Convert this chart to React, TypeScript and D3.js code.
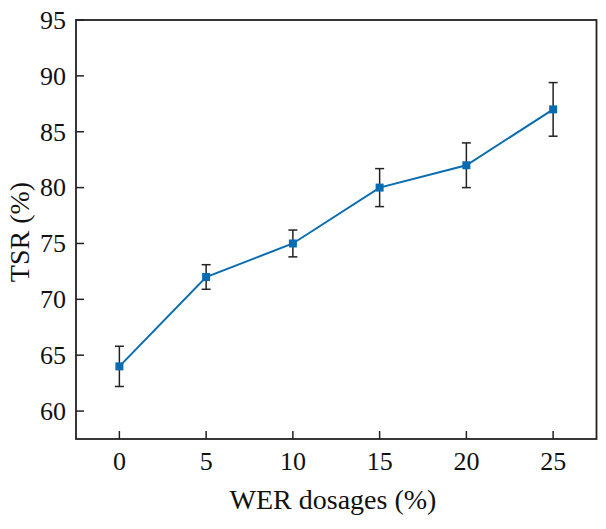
import React from "react";
import * as d3 from "d3";

const dosages = [0, 5, 10, 15, 20, 25];
const tsr = [64, 72, 75, 80, 82, 87];
const tsrErr = [1.8, 1.1, 1.2, 1.7, 2.0, 2.4];
const xTicks = [0, 5, 10, 15, 20, 25];
const yTicks = [60, 65, 70, 75, 80, 85, 90, 95];

const W = 606;
const H = 529;
const M = { left: 76, right: 9.5, top: 20, bottom: 90 };
const FONT = "'Liberation Serif', 'Times New Roman', serif";
const BLUE = "#0a6cb0";

export default function App() {
  const x = d3.scaleLinear().domain([-2.5, 27.5]).range([M.left, W - M.right]);
  const y = d3.scaleLinear().domain([57.5, 95]).range([H - M.bottom, M.top]);
  const pts = dosages.map((d, i) => ({ d, v: tsr[i], e: tsrErr[i] }));
  const line = d3
    .line<{ d: number; v: number }>()
    .x((p) => x(p.d))
    .y((p) => y(p.v));
  const x0 = M.left;
  const x1 = W - M.right;
  const y0 = H - M.bottom;
  const y1 = M.top;
  const tickLen = 8;
  return (
    <svg width={W} height={H} style={{ position: "absolute", left: 0, top: 0 }}>
      <rect x={0} y={0} width={W} height={H} fill="#fff" />
      {/* error bars */}
      {pts.map((p, i) => (
        <g key={"e" + i} stroke="#222" strokeWidth={1.5}>
          <line x1={x(p.d)} x2={x(p.d)} y1={y(p.v - p.e)} y2={y(p.v + p.e)} />
          <line x1={x(p.d) - 4.5} x2={x(p.d) + 4.5} y1={y(p.v - p.e)} y2={y(p.v - p.e)} />
          <line x1={x(p.d) - 4.5} x2={x(p.d) + 4.5} y1={y(p.v + p.e)} y2={y(p.v + p.e)} />
        </g>
      ))}
      <path d={line(pts) || ""} fill="none" stroke={BLUE} strokeWidth={2} />
      {pts.map((p, i) => (
        <rect key={"m" + i} x={x(p.d) - 4} y={y(p.v) - 4} width={8} height={8} fill={BLUE} />
      ))}
      {/* frame */}
      <rect x={x0} y={y1} width={x1 - x0} height={y0 - y1} fill="none" stroke="#222" strokeWidth={1.8} />
      {/* x ticks */}
      {xTicks.map((t) => (
        <g key={"xt" + t}>
          <line x1={x(t)} x2={x(t)} y1={y0} y2={y0 - tickLen} stroke="#222" strokeWidth={1.5} />
          <text x={x(t)} y={469.5} textAnchor="middle" fontFamily={FONT} fontSize={26} fill="#111">
            {t}
          </text>
        </g>
      ))}
      {/* y ticks */}
      {yTicks.map((t) => (
        <g key={"yt" + t}>
          <line x1={x0} x2={x0 + tickLen} y1={y(t)} y2={y(t)} stroke="#222" strokeWidth={1.5} />
          <text x={x0 - 10} y={y(t)} dy="0.34em" textAnchor="end" fontFamily={FONT} fontSize={26} fill="#111">
            {t}
          </text>
        </g>
      ))}
      <text x={333} y={508.5} textAnchor="middle" fontFamily={FONT} fontSize={28} fill="#111">
        WER dosages (%)
      </text>
      <text
        transform={`translate(28.5,232) rotate(-90)`}
        textAnchor="middle"
        fontFamily={FONT}
        fontSize={28}
        fill="#111"
      >
        TSR (%)
      </text>
    </svg>
  );
}
